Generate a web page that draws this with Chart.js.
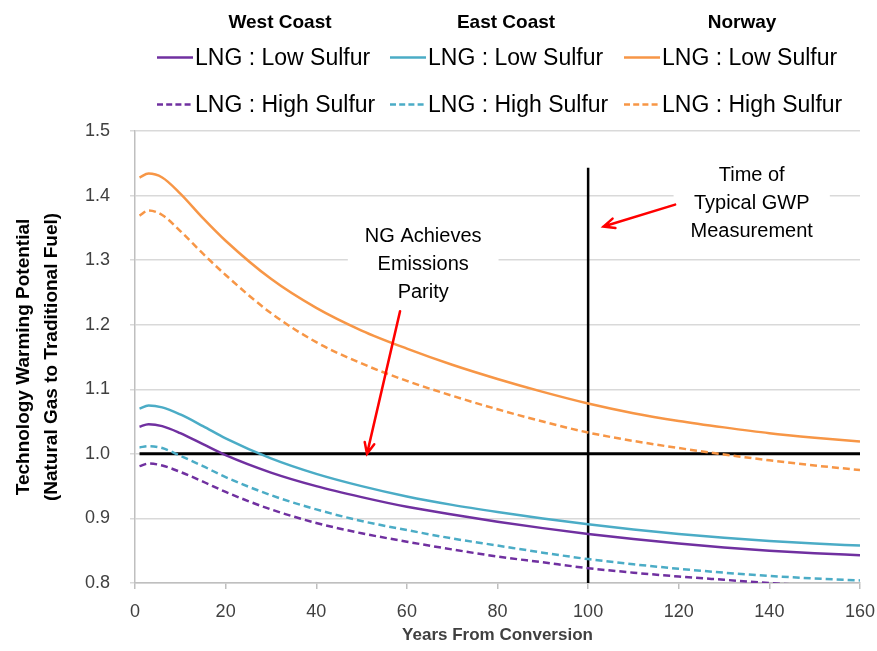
<!DOCTYPE html>
<html>
<head>
<meta charset="utf-8">
<title>Technology Warming Potential</title>
<script src="https://cdn.jsdelivr.net/npm/chart.js@4.4.1/dist/chart.umd.min.js"></script>
<style>
  html, body { margin: 0; padding: 0; background: #fff; }
  #wrap { position: relative; width: 877px; height: 651px; }
  #legend { position: absolute; left: 0; top: 0; width: 877px; height: 125px;
            font-family: "Liberation Sans", Arial, sans-serif; color: #000; }
  .hdr { position: absolute; font-weight: bold; font-size: 19px; white-space: nowrap;
         transform: translate(-50%, -50%); }
  .item { position: absolute; display: flex; align-items: center; font-size: 23px;
          white-space: nowrap; transform: translateY(-50%); }
  .item svg { margin-right: 2px; }
</style>
</head>
<body>
<div id="wrap">
  <canvas id="gwpChart" width="877" height="651"></canvas>
  <div id="legend"></div>
</div>
<script>
// years after conversion
const years = [1, 3, 6, 10, 15, 20, 30, 40, 50, 60, 70, 80, 90, 100, 110, 120, 130, 140, 150, 160];

// warming potential ratio (natural gas / traditional fuel)
const westLow    = [1.042, 1.046, 1.043, 1.032, 1.015, 0.998, 0.971, 0.950, 0.933, 0.918, 0.906, 0.895, 0.885, 0.876, 0.868, 0.861, 0.855, 0.850, 0.846, 0.843];
const westHigh   = [0.981, 0.985, 0.982, 0.972, 0.957, 0.941, 0.914, 0.893, 0.877, 0.864, 0.852, 0.841, 0.832, 0.823, 0.816, 0.810, 0.805, 0.800, 0.796, 0.793];
const eastLow    = [1.070, 1.075, 1.072, 1.061, 1.043, 1.024, 0.993, 0.969, 0.950, 0.934, 0.921, 0.910, 0.900, 0.891, 0.883, 0.876, 0.870, 0.865, 0.861, 0.858];
const eastHigh   = [1.010, 1.012, 1.009, 0.997, 0.981, 0.964, 0.936, 0.914, 0.896, 0.882, 0.869, 0.858, 0.847, 0.837, 0.829, 0.822, 0.816, 0.811, 0.807, 0.804];
const norwayLow  = [1.428, 1.434, 1.428, 1.403, 1.365, 1.330, 1.271, 1.226, 1.191, 1.163, 1.138, 1.116, 1.096, 1.078, 1.063, 1.051, 1.041, 1.032, 1.025, 1.019];
const norwayHigh = [1.369, 1.377, 1.370, 1.345, 1.310, 1.277, 1.218, 1.173, 1.140, 1.113, 1.090, 1.069, 1.050, 1.033, 1.020, 1.009, 0.999, 0.990, 0.982, 0.975];

const regions = ['West Coast', 'East Coast', 'Norway'];
const lowLabel = 'LNG : Low Sulfur';
const highLabel = 'LNG : High Sulfur';

// reference lines
const parityYears = [1, 160];
const parityValue = 1.0;
const gwpYear = 100;
const gwpRange = [0.8, 1.443];

const yTicks = [0.8, 0.9, 1.0, 1.1, 1.2, 1.3, 1.4, 1.5];
const xTicks = [0, 20, 40, 60, 80, 100, 120, 140, 160];

const colors = { west: '#7030A0', east: '#4BACC6', norway: '#F79646' };

function series(label, values, color, dashed) {
    return {
        label: label,
        data: years.map((yr, i) => ({ x: yr, y: values[i] })),
        borderColor: color,
        backgroundColor: color,
        borderWidth: 2.5,
        borderDash: dashed ? [7, 4] : [],
        pointRadius: 0,
        cubicInterpolationMode: 'monotone',
        fill: false
    };
}

const datasets = [
    series(lowLabel, westLow, colors.west, false),
    series(lowLabel, eastLow, colors.east, false),
    series(lowLabel, norwayLow, colors.norway, false),
    series(highLabel, westHigh, colors.west, true),
    series(highLabel, eastHigh, colors.east, true),
    series(highLabel, norwayHigh, colors.norway, true),
    {
        label: 'parity',
        data: parityYears.map(yr => ({ x: yr, y: parityValue })),
        borderColor: '#000', borderWidth: 3, pointRadius: 0, tension: 0
    },
    {
        label: 'gwp',
        data: gwpRange.map(v => ({ x: gwpYear, y: v })),
        borderColor: '#000', borderWidth: 2.5, pointRadius: 0, tension: 0
    }
];

// --- legend (html, grouped by region) ---
const legendBox = document.getElementById('legend');
const hdrCenters = [280, 506, 742];
const itemLefts = [157, 390, 624];
const rowCenters = [57, 104];

function lineSample(color, dashed) {
    return '<svg width="36" height="6"><line x1="0" y1="3" x2="36" y2="3" stroke="' + color +
        '" stroke-width="2.5"' + (dashed ? ' stroke-dasharray="6 3.2"' : '') + '/></svg>';
}

regions.forEach((name, c) => {
    const h = document.createElement('div');
    h.className = 'hdr';
    h.textContent = name;
    h.style.left = hdrCenters[c] + 'px';
    h.style.top = '22px';
    legendBox.appendChild(h);

    [datasets[c], datasets[c + 3]].forEach((ds, r) => {
        const it = document.createElement('div');
        it.className = 'item';
        it.style.left = itemLefts[c] + 'px';
        it.style.top = rowCenters[r] + 'px';
        it.innerHTML = lineSample(ds.borderColor, r === 1) + '<span>' + ds.label + '</span>';
        legendBox.appendChild(it);
    });
});

// --- annotations: callout text and red arrows, placed in data units ---
const callouts = [
    { x: 63.6, y: 1.337, lines: ['NG Achieves', 'Emissions', 'Parity'] },
    { x: 136.1, y: 1.431, lines: ['Time of', 'Typical GWP', 'Measurement'] }
];
const arrows = [
    { from: [58.5, 1.221], to: [51.2, 1.0] },
    { from: [119.2, 1.386], to: [103.4, 1.352] }
];

const annotationPlugin = {
    id: 'callouts',
    beforeDatasetsDraw(chart) {
        const ctx = chart.ctx;
        const xs = chart.scales.x, ys = chart.scales.y;
        ctx.save();
        ctx.font = '20px "Liberation Sans", Arial, sans-serif';
        ctx.textAlign = 'center';
        ctx.textBaseline = 'middle';
        callouts.forEach(c => {
            const px = xs.getPixelForValue(c.x);
            const py = ys.getPixelForValue(c.y);
            const w = Math.max(...c.lines.map(l => ctx.measureText(l).width)) + 34;
            ctx.fillStyle = '#fff';
            ctx.fillRect(px - w / 2, py - 16, w, 28 * c.lines.length + 4);
            ctx.fillStyle = '#000';
            c.lines.forEach((l, i) => ctx.fillText(l, px, py + i * 28));
        });
        ctx.restore();
    },
    afterDatasetsDraw(chart) {
        const ctx = chart.ctx;
        const xs = chart.scales.x, ys = chart.scales.y;
        ctx.save();
        ctx.strokeStyle = '#FF0000';
        ctx.lineWidth = 2.5;
        ctx.lineCap = 'round';
        arrows.forEach(a => {
            const x1 = xs.getPixelForValue(a.from[0]), y1 = ys.getPixelForValue(a.from[1]);
            const x2 = xs.getPixelForValue(a.to[0]), y2 = ys.getPixelForValue(a.to[1]);
            const ang = Math.atan2(y2 - y1, x2 - x1);
            const head = 12, spread = 0.42;
            ctx.beginPath();
            ctx.moveTo(x1, y1);
            ctx.lineTo(x2, y2);
            ctx.moveTo(x2 - head * Math.cos(ang - spread), y2 - head * Math.sin(ang - spread));
            ctx.lineTo(x2, y2);
            ctx.lineTo(x2 - head * Math.cos(ang + spread), y2 - head * Math.sin(ang + spread));
            ctx.stroke();
        });
        ctx.restore();
    }
};

const tickFont = { family: '"Liberation Sans", Arial, sans-serif', size: 18 };

new Chart(document.getElementById('gwpChart').getContext('2d'), {
    type: 'line',
    data: { datasets: datasets },
    plugins: [annotationPlugin],
    options: {
        responsive: false,
        animation: false,
        layout: { padding: { top: 131, right: 17, left: 0, bottom: 0 } },
        plugins: {
            legend: { display: false },
            tooltip: { enabled: false }
        },
        scales: {
            x: {
                type: 'linear',
                min: 0,
                max: 160,
                afterBuildTicks: scale => { scale.ticks = xTicks.map(v => ({ value: v })); },
                afterFit: scale => {
                    scale.height = 68;
                    scale.paddingLeft = 0;
                    scale.paddingRight = 0;
                },
                border: { color: '#BFBFBF', width: 1.5 },
                grid: { drawOnChartArea: false, drawTicks: true, tickLength: 6, color: '#BFBFBF', lineWidth: 1.5 },
                ticks: { color: '#404040', font: tickFont, padding: 12, maxRotation: 0 },
                title: {
                    display: true,
                    text: 'Years From Conversion',
                    color: '#404040',
                    font: { family: '"Liberation Sans", Arial, sans-serif', size: 17, weight: 'bold', lineHeight: 1.2 },
                    padding: { top: 0, bottom: 5 }
                }
            },
            y: {
                min: 0.8,
                max: 1.5,
                afterBuildTicks: scale => { scale.ticks = yTicks.map(v => ({ value: v })); },
                afterFit: scale => { scale.width = 135; },
                border: { color: '#BFBFBF', width: 1.5 },
                grid: { color: '#D9D9D9', lineWidth: 1.5, tickLength: 5 },
                ticks: {
                    color: '#404040',
                    font: tickFont,
                    padding: 20,
                    callback: v => v.toFixed(1)
                },
                title: {
                    display: true,
                    text: ['Technology Warming Potential', '(Natural Gas to Traditional Fuel)'],
                    color: '#000',
                    font: { family: '"Liberation Sans", Arial, sans-serif', size: 19, weight: 'bold', lineHeight: 1.45 },
                    padding: { top: 10, bottom: 0 }
                }
            }
        }
    }
});
</script>
</body>
</html>
